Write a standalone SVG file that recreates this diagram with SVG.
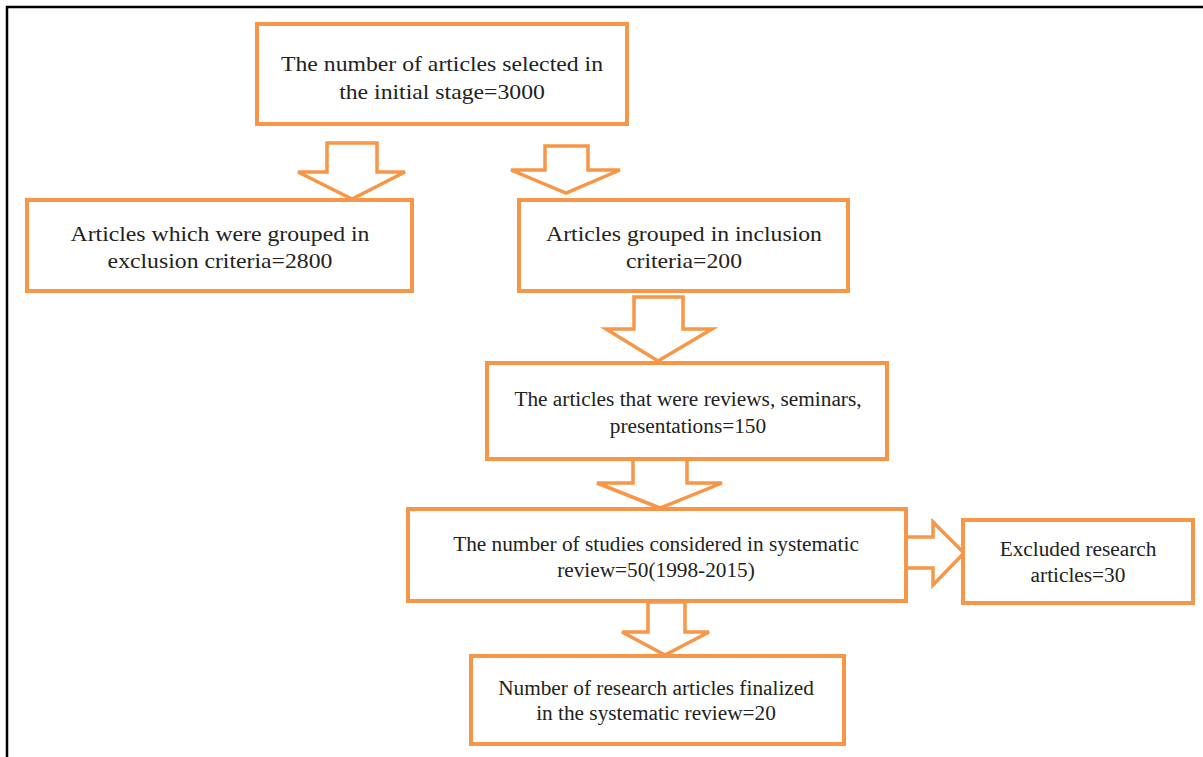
<svg xmlns="http://www.w3.org/2000/svg" width="1203" height="757" viewBox="0 0 1203 757">
<style>
.box{fill:#fff;stroke:#F79646;stroke-width:4}
.arr{fill:#fff;stroke:#F79646;stroke-width:3.5;stroke-linejoin:miter}
.t{font-family:"Liberation Serif","Times New Roman",serif;font-size:21.3px;fill:#222;text-anchor:middle}
.tw{font-family:"Liberation Serif","Times New Roman",serif;font-size:21px;fill:#222;text-anchor:middle}
.frame{stroke:#000;stroke-width:2.5;fill:none}
</style>
<rect width="1203" height="757" fill="#fff"/>
<polyline class="frame" points="7,757 7,7 1203,7"/>
<g id="connectors">
<polygon class="arr" points="327,143 377,143 377,172 405,172 352,199 298,172 327,172"/>
<polygon class="arr" points="545,146 588,146 588,170 620,170 566,193 511,170 545,170"/>
<polygon class="arr" points="634,297 683,297 683,329 712,329 658,361 606,329 634,329"/>
<polygon class="arr" points="633,456 687,456 687,483 722,483 660,508 597,483 633,483"/>
<polygon class="arr" points="648,602 685,602 685,632 709,632 665,655 622,632 648,632"/>
<polygon class="arr" points="906,537 933,537 933,522 964,553 933,585 933,568 906,568"/>
</g>
<g id="n1"><rect class="box" x="257" y="24" width="370" height="100"/>
<text class="tw" transform="translate(442,71) scale(1.13,1)">The number of articles selected in</text>
<text class="tw" transform="translate(442,99) scale(1.13,1)">the initial stage=3000</text></g>
<g id="n2"><rect class="box" x="27" y="200" width="385" height="91"/>
<text class="tw" transform="translate(220,241) scale(1.13,1)">Articles which were grouped in</text>
<text class="tw" transform="translate(220,268) scale(1.13,1)">exclusion criteria=2800</text></g>
<g id="n3"><rect class="box" x="519" y="200" width="329" height="91"/>
<text class="tw" transform="translate(684,241) scale(1.13,1)">Articles grouped in inclusion</text>
<text class="tw" transform="translate(684,268) scale(1.13,1)">criteria=200</text></g>
<g id="n4"><rect class="box" x="487" y="363" width="400" height="96"/>
<text class="t" x="688" y="406">The articles that were reviews, seminars,</text>
<text class="t" x="688" y="433">presentations=150</text></g>
<g id="n5"><rect class="box" x="408" y="509" width="498" height="92"/>
<text class="t" x="656" y="551">The number of studies considered in systematic</text>
<text class="t" x="656" y="577">review=50(1998-2015)</text></g>
<g id="n6"><rect class="box" x="963" y="520" width="230" height="83"/>
<text class="t" x="1078" y="556">Excluded research</text>
<text class="t" x="1078" y="582">articles=30</text></g>
<g id="n7"><rect class="box" x="471" y="656" width="373" height="88"/>
<text class="t" x="656" y="695">Number of research articles finalized</text>
<text class="t" x="656" y="720">in the systematic review=20</text></g>
</svg>
